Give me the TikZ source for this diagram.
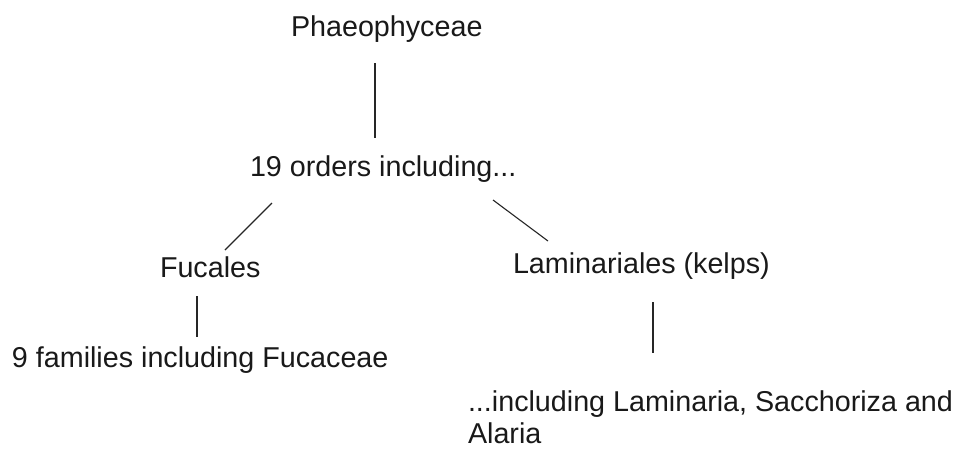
\documentclass[tikz,border=0pt]{standalone}
\usepackage{fontspec}
\setmainfont{Liberation Sans}
\begin{document}
\begin{tikzpicture}[x=1pt,y=1pt,
  taxon/.style={anchor=base west, inner sep=0pt, outer sep=0pt,
    font=\fontsize{28.7}{32}\selectfont, text=black!90},
  link/.style={line width=1.1pt, black!85}]
\useasboundingbox[fill=white] (0,0) rectangle (968,-448);

% taxa (a multi-line node sits on its last baseline)
\node[taxon] (ph)  at (291,-36)  {Phaeophyceae};
\node[taxon] (ord) at (250,-176) {19 orders including...};
\node[taxon] (fuc) at (160,-277) {Fucales};
\node[taxon] (lam) at (513,-273) {Laminariales (kelps)};
\node[taxon] (fam) at (12,-367)  {9 families including Fucaceae};
\node[taxon, align=left] (gen) at (468,-443)
  {...including Laminaria, Sacchoriza and\\Alaria};

% line ends
\coordinate (ph-b)  at (375,-63);
\coordinate (ord-t) at (375,-138);
\coordinate (ord-l) at (272,-203);
\coordinate (fuc-t) at (225,-250);
\coordinate (ord-r) at (493,-200);
\coordinate (lam-t) at (548,-241);
\coordinate (fuc-b) at (197,-296);
\coordinate (fam-t) at (197,-337);
\coordinate (lam-b) at (653,-302);
\coordinate (gen-t) at (653,-353);

\draw[link] (ph-b) -- (ord-t);
\draw[link] (ord-l) -- (fuc-t);
\draw[link] (ord-r) -- (lam-t);
\draw[link] (fuc-b) -- (fam-t);
\draw[link] (lam-b) -- (gen-t);
\end{tikzpicture}
\end{document}
